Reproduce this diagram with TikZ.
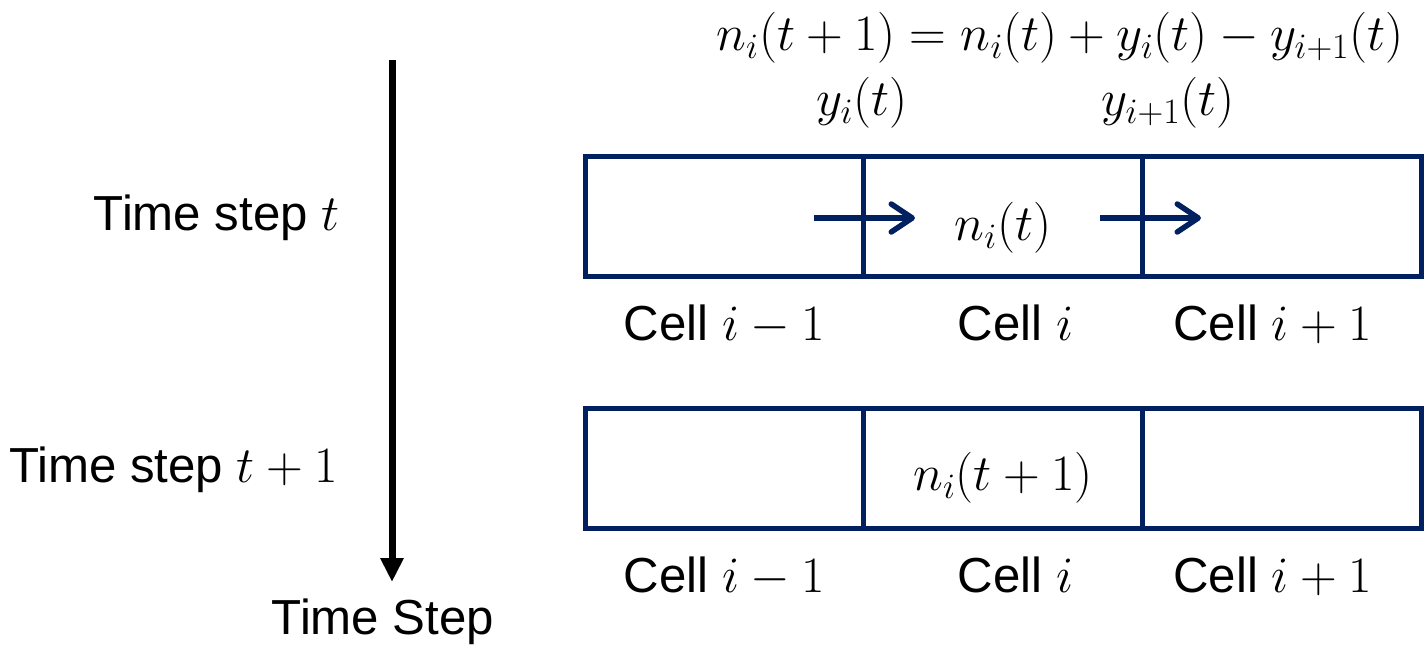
\RequirePackage{fix-cm}
\documentclass[tikz,border=0pt]{standalone}
\usepackage{fontspec}
\setmainfont{Liberation Sans}
\usetikzlibrary{arrows.meta,positioning}
\definecolor{navy}{HTML}{002060}
\newcommand{\mth}[1]{{\fontsize{29}{33}\selectfont$#1$}}

\begin{document}
\begin{tikzpicture}[x=0.02cm, y=-0.02cm,
  cell/.style={draw=navy, line width=0.1cm, minimum width=5.58cm, minimum height=2.42cm, outer sep=0pt, inner sep=0pt},
  lbl/.style={font=\fontsize{28}{32}\selectfont, inner sep=0pt},
  flow/.style={-{Straight Barb[length=0.42cm, width=0.56cm, line width=0.11cm, round]}, draw=navy, line width=0.12cm},
  timearr/.style={-{Triangle[length=0.48cm, width=0.44cm]}, line width=0.14cm}
]
  \useasboundingbox (0,0) rectangle (1427,645);

  % cells at time step t
  \node[cell] (a1) at (724.5,216.5) {};
  \node[cell, right=0pt of a1] (a2) {};
  \node[cell, right=0pt of a2] (a3) {};
  % cells at time step t+1
  \node[cell] (b1) at (724.5,468.5) {};
  \node[cell, right=0pt of b1] (b2) {};
  \node[cell, right=0pt of b2] (b3) {};

  \node[lbl] (na) at (1003,228) {\mth{n_i(t)}};
  \node[lbl] (nb) at (1003,478) {\mth{n_i(t+1)}};

  \node[lbl, below=0.56cm of a1] (la1) {Cell \mth{i-1}};
  \node[lbl, below=0.56cm of a2, xshift=0.24cm] (la2) {Cell \mth{i}};
  \node[lbl, below=0.56cm of a3, xshift=-0.2cm] (la3) {Cell \mth{i+1}};
  \node[lbl, below=0.56cm of b1] (lb1) {Cell \mth{i-1}};
  \node[lbl, below=0.56cm of b2, xshift=0.24cm] (lb2) {Cell \mth{i}};
  \node[lbl, below=0.56cm of b3, xshift=-0.2cm] (lb3) {Cell \mth{i+1}};

  % flows across the borders
  \coordinate (f1s) at (814,218);
  \coordinate (f1e) at (915,218);
  \coordinate (f2s) at (1100,218);
  \coordinate (f2e) at (1201,218);
  \draw[flow] (f1s) -- (f1e);
  \draw[flow] (f2s) -- (f2e);

  \node[lbl] (ya) at (862,103) {\mth{y_i(t)}};
  \node[lbl] (yb) at (1168,103) {\mth{y_{i+1}(t)}};
  \node[lbl] (eq) at (1060,38) {\mth{n_i(t+1) = n_i(t) + y_i(t) - y_{i+1}(t)}};

  % time axis
  \node[lbl, anchor=east] (ta) at (340,218) {Time step \mth{t}};
  \node[lbl, anchor=east] (tb) at (338,470) {Time step \mth{t+1}};
  \coordinate (ts) at (392,60);
  \coordinate (te) at (392,582);
  \draw[timearr] (ts) -- (te);
  \node[lbl] (tl) at (383,622) {Time Step};
\end{tikzpicture}
\end{document}
